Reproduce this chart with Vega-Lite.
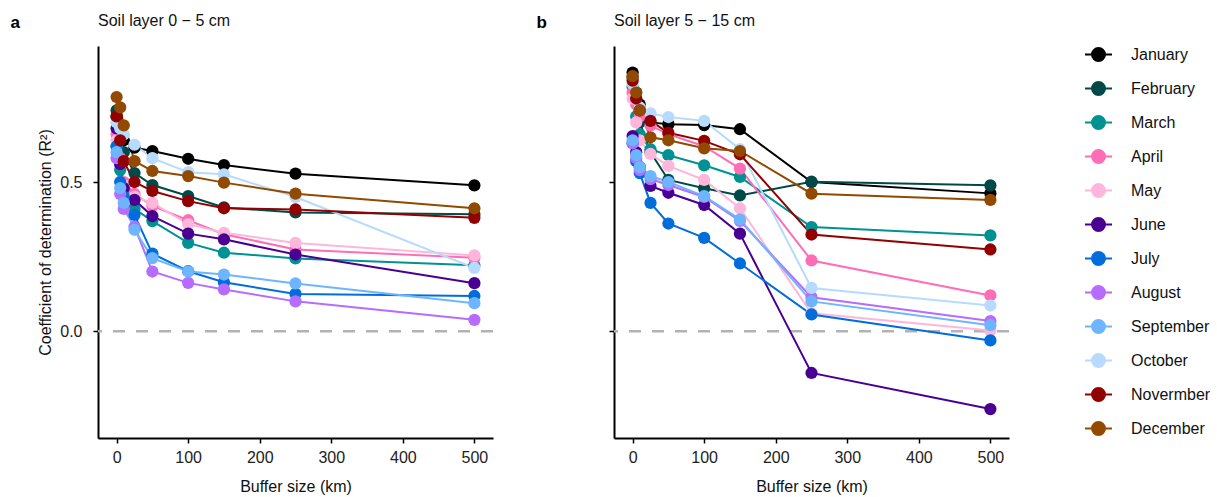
{
  "$schema": "https://vega.github.io/schema/vega-lite/v6.json",
  "padding": {"left": 10, "top": 13, "right": 5, "bottom": 5},
  "background": "white",
  "config": {
    "font": "Liberation Sans",
    "view": {"stroke": null},
    "concat": {"spacing": 41},
    "axis": {"grid": false, "domainColor": "black", "domainWidth": 2, "tickColor": "black", "tickWidth": 1.5, "tickSize": 5, "labelFontSize": 16, "titleFontSize": 16, "labelColor": "#222", "titleColor": "#111", "titleFontWeight": "normal"},
    "title": {"fontSize": 16, "fontWeight": "normal", "anchor": "start", "frame": "group", "color": "#111", "offset": -16},
    "legend": {
      "title": null,
      "orient": "none",
      "legendX": 986,
      "legendY": -6,
      "labelFontSize": 16,
      "labelColor": "#111",
      "symbolType": "M-1,0L1,0M0.48,0A0.48,0.48,0,1,1,-0.48,0A0.48,0.48,0,1,1,0.48,0Z",
      "symbolSize": 729,
      "symbolStrokeWidth": 2,
      "symbolOpacity": 1,
      "rowPadding": 9,
      "labelOffset": 18
    }
  },
  "datasets": {
    "r2": [
      {"panel":"a","month":"January","buffer":0,"r2":0.72},{"panel":"a","month":"January","buffer":5,"r2":0.67},{"panel":"a","month":"January","buffer":10,"r2":0.64},{"panel":"a","month":"January","buffer":25,"r2":0.615},{"panel":"a","month":"January","buffer":50,"r2":0.604},{"panel":"a","month":"January","buffer":100,"r2":0.578},{"panel":"a","month":"January","buffer":150,"r2":0.557},{"panel":"a","month":"January","buffer":250,"r2":0.528},{"panel":"a","month":"January","buffer":500,"r2":0.489},
      {"panel":"a","month":"February","buffer":0,"r2":0.74},{"panel":"a","month":"February","buffer":5,"r2":0.66},{"panel":"a","month":"February","buffer":10,"r2":0.6},{"panel":"a","month":"February","buffer":25,"r2":0.53},{"panel":"a","month":"February","buffer":50,"r2":0.49},{"panel":"a","month":"February","buffer":100,"r2":0.453},{"panel":"a","month":"February","buffer":150,"r2":0.415},{"panel":"a","month":"February","buffer":250,"r2":0.398},{"panel":"a","month":"February","buffer":500,"r2":0.392},
      {"panel":"a","month":"March","buffer":0,"r2":0.62},{"panel":"a","month":"March","buffer":5,"r2":0.54},{"panel":"a","month":"March","buffer":10,"r2":0.47},{"panel":"a","month":"March","buffer":25,"r2":0.41},{"panel":"a","month":"March","buffer":50,"r2":0.369},{"panel":"a","month":"March","buffer":100,"r2":0.296},{"panel":"a","month":"March","buffer":150,"r2":0.263},{"panel":"a","month":"March","buffer":250,"r2":0.244},{"panel":"a","month":"March","buffer":500,"r2":0.221},
      {"panel":"a","month":"April","buffer":0,"r2":0.66},{"panel":"a","month":"April","buffer":5,"r2":0.58},{"panel":"a","month":"April","buffer":10,"r2":0.5},{"panel":"a","month":"April","buffer":25,"r2":0.46},{"panel":"a","month":"April","buffer":50,"r2":0.42},{"panel":"a","month":"April","buffer":100,"r2":0.372},{"panel":"a","month":"April","buffer":150,"r2":0.325},{"panel":"a","month":"April","buffer":250,"r2":0.274},{"panel":"a","month":"April","buffer":500,"r2":0.246},
      {"panel":"a","month":"May","buffer":0,"r2":0.64},{"panel":"a","month":"May","buffer":5,"r2":0.56},{"panel":"a","month":"May","buffer":10,"r2":0.49},{"panel":"a","month":"May","buffer":25,"r2":0.45},{"panel":"a","month":"May","buffer":50,"r2":0.43},{"panel":"a","month":"May","buffer":100,"r2":0.359},{"panel":"a","month":"May","buffer":150,"r2":0.33},{"panel":"a","month":"May","buffer":250,"r2":0.296},{"panel":"a","month":"May","buffer":500,"r2":0.254},
      {"panel":"a","month":"June","buffer":0,"r2":0.68},{"panel":"a","month":"June","buffer":5,"r2":0.56},{"panel":"a","month":"June","buffer":10,"r2":0.48},{"panel":"a","month":"June","buffer":25,"r2":0.44},{"panel":"a","month":"June","buffer":50,"r2":0.386},{"panel":"a","month":"June","buffer":100,"r2":0.327},{"panel":"a","month":"June","buffer":150,"r2":0.308},{"panel":"a","month":"June","buffer":250,"r2":0.257},{"panel":"a","month":"June","buffer":500,"r2":0.161},
      {"panel":"a","month":"July","buffer":0,"r2":0.62},{"panel":"a","month":"July","buffer":5,"r2":0.5},{"panel":"a","month":"July","buffer":10,"r2":0.45},{"panel":"a","month":"July","buffer":25,"r2":0.39},{"panel":"a","month":"July","buffer":50,"r2":0.26},{"panel":"a","month":"July","buffer":100,"r2":0.201},{"panel":"a","month":"July","buffer":150,"r2":0.164},{"panel":"a","month":"July","buffer":250,"r2":0.125},{"panel":"a","month":"July","buffer":500,"r2":0.118},
      {"panel":"a","month":"August","buffer":0,"r2":0.58},{"panel":"a","month":"August","buffer":5,"r2":0.46},{"panel":"a","month":"August","buffer":10,"r2":0.41},{"panel":"a","month":"August","buffer":25,"r2":0.35},{"panel":"a","month":"August","buffer":50,"r2":0.2},{"panel":"a","month":"August","buffer":100,"r2":0.162},{"panel":"a","month":"August","buffer":150,"r2":0.14},{"panel":"a","month":"August","buffer":250,"r2":0.1},{"panel":"a","month":"August","buffer":500,"r2":0.038},
      {"panel":"a","month":"September","buffer":0,"r2":0.6},{"panel":"a","month":"September","buffer":5,"r2":0.48},{"panel":"a","month":"September","buffer":10,"r2":0.43},{"panel":"a","month":"September","buffer":25,"r2":0.34},{"panel":"a","month":"September","buffer":50,"r2":0.245},{"panel":"a","month":"September","buffer":100,"r2":0.2},{"panel":"a","month":"September","buffer":150,"r2":0.19},{"panel":"a","month":"September","buffer":250,"r2":0.16},{"panel":"a","month":"September","buffer":500,"r2":0.094},
      {"panel":"a","month":"October","buffer":0,"r2":0.7},{"panel":"a","month":"October","buffer":5,"r2":0.68},{"panel":"a","month":"October","buffer":10,"r2":0.66},{"panel":"a","month":"October","buffer":25,"r2":0.625},{"panel":"a","month":"October","buffer":50,"r2":0.58},{"panel":"a","month":"October","buffer":100,"r2":0.533},{"panel":"a","month":"October","buffer":150,"r2":0.526},{"panel":"a","month":"October","buffer":250,"r2":0.45},{"panel":"a","month":"October","buffer":500,"r2":0.212},
      {"panel":"a","month":"Novermber","buffer":0,"r2":0.72},{"panel":"a","month":"Novermber","buffer":5,"r2":0.64},{"panel":"a","month":"Novermber","buffer":10,"r2":0.57},{"panel":"a","month":"Novermber","buffer":25,"r2":0.5},{"panel":"a","month":"Novermber","buffer":50,"r2":0.47},{"panel":"a","month":"Novermber","buffer":100,"r2":0.436},{"panel":"a","month":"Novermber","buffer":150,"r2":0.412},{"panel":"a","month":"Novermber","buffer":250,"r2":0.408},{"panel":"a","month":"Novermber","buffer":500,"r2":0.38},
      {"panel":"a","month":"December","buffer":0,"r2":0.785},{"panel":"a","month":"December","buffer":5,"r2":0.75},{"panel":"a","month":"December","buffer":10,"r2":0.69},{"panel":"a","month":"December","buffer":25,"r2":0.57},{"panel":"a","month":"December","buffer":50,"r2":0.537},{"panel":"a","month":"December","buffer":100,"r2":0.52},{"panel":"a","month":"December","buffer":150,"r2":0.498},{"panel":"a","month":"December","buffer":250,"r2":0.461},{"panel":"a","month":"December","buffer":500,"r2":0.412},
      {"panel":"b","month":"January","buffer":0,"r2":0.867},{"panel":"b","month":"January","buffer":5,"r2":0.8},{"panel":"b","month":"January","buffer":10,"r2":0.76},{"panel":"b","month":"January","buffer":25,"r2":0.7},{"panel":"b","month":"January","buffer":50,"r2":0.694},{"panel":"b","month":"January","buffer":100,"r2":0.691},{"panel":"b","month":"January","buffer":150,"r2":0.677},{"panel":"b","month":"January","buffer":250,"r2":0.5},{"panel":"b","month":"January","buffer":500,"r2":0.462},
      {"panel":"b","month":"February","buffer":0,"r2":0.85},{"panel":"b","month":"February","buffer":5,"r2":0.78},{"panel":"b","month":"February","buffer":10,"r2":0.7},{"panel":"b","month":"February","buffer":25,"r2":0.6},{"panel":"b","month":"February","buffer":50,"r2":0.507},{"panel":"b","month":"February","buffer":100,"r2":0.479},{"panel":"b","month":"February","buffer":150,"r2":0.455},{"panel":"b","month":"February","buffer":250,"r2":0.501},{"panel":"b","month":"February","buffer":500,"r2":0.489},
      {"panel":"b","month":"March","buffer":0,"r2":0.82},{"panel":"b","month":"March","buffer":5,"r2":0.72},{"panel":"b","month":"March","buffer":10,"r2":0.66},{"panel":"b","month":"March","buffer":25,"r2":0.61},{"panel":"b","month":"March","buffer":50,"r2":0.59},{"panel":"b","month":"March","buffer":100,"r2":0.556},{"panel":"b","month":"March","buffer":150,"r2":0.517},{"panel":"b","month":"March","buffer":250,"r2":0.349},{"panel":"b","month":"March","buffer":500,"r2":0.321},
      {"panel":"b","month":"April","buffer":0,"r2":0.8},{"panel":"b","month":"April","buffer":5,"r2":0.76},{"panel":"b","month":"April","buffer":10,"r2":0.72},{"panel":"b","month":"April","buffer":25,"r2":0.69},{"panel":"b","month":"April","buffer":50,"r2":0.66},{"panel":"b","month":"April","buffer":100,"r2":0.62},{"panel":"b","month":"April","buffer":150,"r2":0.545},{"panel":"b","month":"April","buffer":250,"r2":0.237},{"panel":"b","month":"April","buffer":500,"r2":0.12},
      {"panel":"b","month":"May","buffer":0,"r2":0.78},{"panel":"b","month":"May","buffer":5,"r2":0.7},{"panel":"b","month":"May","buffer":10,"r2":0.64},{"panel":"b","month":"May","buffer":25,"r2":0.594},{"panel":"b","month":"May","buffer":50,"r2":0.554},{"panel":"b","month":"May","buffer":100,"r2":0.507},{"panel":"b","month":"May","buffer":150,"r2":0.412},{"panel":"b","month":"May","buffer":250,"r2":0.06},{"panel":"b","month":"May","buffer":500,"r2":0.002},
      {"panel":"b","month":"June","buffer":0,"r2":0.654},{"panel":"b","month":"June","buffer":5,"r2":0.6},{"panel":"b","month":"June","buffer":10,"r2":0.55},{"panel":"b","month":"June","buffer":25,"r2":0.487},{"panel":"b","month":"June","buffer":50,"r2":0.464},{"panel":"b","month":"June","buffer":100,"r2":0.423},{"panel":"b","month":"June","buffer":150,"r2":0.327},{"panel":"b","month":"June","buffer":250,"r2":-0.14},{"panel":"b","month":"June","buffer":500,"r2":-0.261},
      {"panel":"b","month":"July","buffer":0,"r2":0.63},{"panel":"b","month":"July","buffer":5,"r2":0.57},{"panel":"b","month":"July","buffer":10,"r2":0.53},{"panel":"b","month":"July","buffer":25,"r2":0.43},{"panel":"b","month":"July","buffer":50,"r2":0.361},{"panel":"b","month":"July","buffer":100,"r2":0.313},{"panel":"b","month":"July","buffer":150,"r2":0.227},{"panel":"b","month":"July","buffer":250,"r2":0.056},{"panel":"b","month":"July","buffer":500,"r2":-0.031},
      {"panel":"b","month":"August","buffer":0,"r2":0.63},{"panel":"b","month":"August","buffer":5,"r2":0.58},{"panel":"b","month":"August","buffer":10,"r2":0.54},{"panel":"b","month":"August","buffer":25,"r2":0.51},{"panel":"b","month":"August","buffer":50,"r2":0.49},{"panel":"b","month":"August","buffer":100,"r2":0.45},{"panel":"b","month":"August","buffer":150,"r2":0.37},{"panel":"b","month":"August","buffer":250,"r2":0.114},{"panel":"b","month":"August","buffer":500,"r2":0.034},
      {"panel":"b","month":"September","buffer":0,"r2":0.64},{"panel":"b","month":"September","buffer":5,"r2":0.59},{"panel":"b","month":"September","buffer":10,"r2":0.55},{"panel":"b","month":"September","buffer":25,"r2":0.52},{"panel":"b","month":"September","buffer":50,"r2":0.5},{"panel":"b","month":"September","buffer":100,"r2":0.453},{"panel":"b","month":"September","buffer":150,"r2":0.375},{"panel":"b","month":"September","buffer":250,"r2":0.1},{"panel":"b","month":"September","buffer":500,"r2":0.02},
      {"panel":"b","month":"October","buffer":0,"r2":0.83},{"panel":"b","month":"October","buffer":5,"r2":0.78},{"panel":"b","month":"October","buffer":10,"r2":0.75},{"panel":"b","month":"October","buffer":25,"r2":0.73},{"panel":"b","month":"October","buffer":50,"r2":0.718},{"panel":"b","month":"October","buffer":100,"r2":0.705},{"panel":"b","month":"October","buffer":150,"r2":0.61},{"panel":"b","month":"October","buffer":250,"r2":0.145},{"panel":"b","month":"October","buffer":500,"r2":0.086},
      {"panel":"b","month":"Novermber","buffer":0,"r2":0.84},{"panel":"b","month":"Novermber","buffer":5,"r2":0.78},{"panel":"b","month":"Novermber","buffer":10,"r2":0.74},{"panel":"b","month":"Novermber","buffer":25,"r2":0.705},{"panel":"b","month":"Novermber","buffer":50,"r2":0.665},{"panel":"b","month":"Novermber","buffer":100,"r2":0.638},{"panel":"b","month":"Novermber","buffer":150,"r2":0.593},{"panel":"b","month":"Novermber","buffer":250,"r2":0.324},{"panel":"b","month":"Novermber","buffer":500,"r2":0.274},
      {"panel":"b","month":"December","buffer":0,"r2":0.855},{"panel":"b","month":"December","buffer":5,"r2":0.8},{"panel":"b","month":"December","buffer":10,"r2":0.74},{"panel":"b","month":"December","buffer":25,"r2":0.65},{"panel":"b","month":"December","buffer":50,"r2":0.64},{"panel":"b","month":"December","buffer":100,"r2":0.613},{"panel":"b","month":"December","buffer":150,"r2":0.604},{"panel":"b","month":"December","buffer":250,"r2":0.461},{"panel":"b","month":"December","buffer":500,"r2":0.44}
    ],
    "zero": [{"r2": 0}]
  },
  "hconcat": [
    {
      "width": 395,
      "height": 392,
      "title": {"text": "Soil layer 0 − 5 cm"},
      "encoding": {
        "y": {"field": "r2", "type": "quantitative", "scale": {"domain": [-0.358, 0.956], "nice": false, "zero": false},
              "axis": {"values": [0, 0.5], "format": ".1f", "title": "Coefficient of determination (R²)", "labelPadding": 11, "titlePadding": 6}}
      },
      "layer": [
        {"data": {"name": "zero"}, "mark": {"type": "rule", "strokeDash": [12, 11], "strokeWidth": 2.5, "color": "#b3b3b3"}, "encoding": {}},
        {"data": {"name": "r2"}, "transform": [{"filter": "datum.panel == 'a'"}],
         "mark": {"type": "line", "strokeWidth": 2},
         "encoding": {
           "x": {"field": "buffer", "type": "quantitative", "scale": {"domain": [-26, 526], "nice": false, "zero": false}, "axis": {"values": [0, 100, 200, 300, 400, 500], "title": "Buffer size (km)", "labelPadding": 6, "titlePadding": 13}},
           "color": {"field": "month", "type": "nominal", "scale": {"domain": ["January","February","March","April","May","June","July","August","September","October","Novermber","December"], "range": ["#000000","#004949","#009292","#ff6db6","#ffb6db","#490092","#006ddb","#b66dff","#6db6ff","#b6dbff","#920000","#924900"]},
                     "legend": {"encode": {"symbols": {"update": {"fill": {"scale": "color", "field": "value"}, "stroke": {"scale": "color", "field": "value"}}}}}}
         }},
        {"data": {"name": "r2"}, "transform": [{"filter": "datum.panel == 'a'"}],
         "mark": {"type": "point", "filled": true, "size": 150, "opacity": 1},
         "encoding": {
           "x": {"field": "buffer", "type": "quantitative", "scale": {"domain": [-26, 526], "nice": false, "zero": false},
                 "axis": {"orient": "top", "domain": false, "ticks": false, "labels": false, "title": "a", "titleFontWeight": "bold", "titleFontSize": 17, "titleX": -88, "titleY": -19, "titleAlign": "left", "titleBaseline": "alphabetic", "titleColor": "#000"}},
           "color": {"field": "month", "type": "nominal"}
         }}
      ],
      "resolve": {"axis": {"x": "independent"}}
    },
    {
      "width": 395,
      "height": 392,
      "title": {"text": "Soil layer 5 − 15 cm"},
      "encoding": {
        "y": {"field": "r2", "type": "quantitative", "scale": {"domain": [-0.358, 0.956], "nice": false, "zero": false},
              "axis": {"values": [0, 0.5], "labels": false, "title": null}}
      },
      "layer": [
        {"data": {"name": "zero"}, "mark": {"type": "rule", "strokeDash": [12, 11], "strokeWidth": 2.5, "color": "#b3b3b3"}, "encoding": {}},
        {"data": {"name": "r2"}, "transform": [{"filter": "datum.panel == 'b'"}],
         "mark": {"type": "line", "strokeWidth": 2},
         "encoding": {
           "x": {"field": "buffer", "type": "quantitative", "scale": {"domain": [-26, 526], "nice": false, "zero": false}, "axis": {"values": [0, 100, 200, 300, 400, 500], "title": "Buffer size (km)", "labelPadding": 6, "titlePadding": 13}},
           "color": {"field": "month", "type": "nominal"}
         }},
        {"data": {"name": "r2"}, "transform": [{"filter": "datum.panel == 'b'"}],
         "mark": {"type": "point", "filled": true, "size": 150, "opacity": 1},
         "encoding": {
           "x": {"field": "buffer", "type": "quantitative", "scale": {"domain": [-26, 526], "nice": false, "zero": false},
                 "axis": {"orient": "top", "domain": false, "ticks": false, "labels": false, "title": "b", "titleFontWeight": "bold", "titleFontSize": 17, "titleX": -78, "titleY": -19, "titleAlign": "left", "titleBaseline": "alphabetic", "titleColor": "#000"}},
           "color": {"field": "month", "type": "nominal"}
         }}
      ],
      "resolve": {"axis": {"x": "independent"}}
    }
  ]
}
